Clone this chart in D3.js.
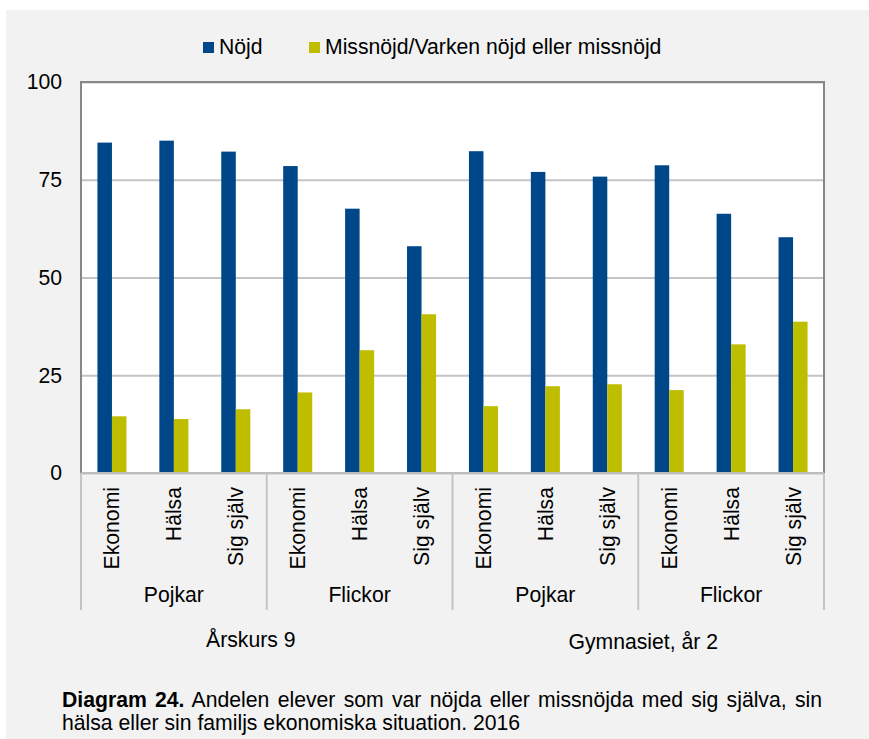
<!DOCTYPE html>
<html>
<head>
<meta charset="utf-8">
<script src="https://cdn.jsdelivr.net/npm/d3@7"></script>
<style>
  body { margin: 0; background: #fff; }
  svg { display: block; font-family: "Liberation Sans", Arial, sans-serif; }
</style>
</head>
<body>
<div id="chart"></div>
<script>
// chart data
const grades = ['Årskurs 9', 'Gymnasiet, år 2'];
const genders = ['Pojkar', 'Flickor'];
const topics = ['Ekonomi', 'Hälsa', 'Sig själv'];
const series = ['Nöjd', 'Missnöjd/Varken nöjd eller missnöjd'];
const nojd = [84.5, 85.0, 82.2, 78.5, 67.6, 58.0, 82.3, 77.0, 75.8, 78.7, 66.3, 60.3];
const missnojd = [14.5, 13.8, 16.3, 20.6, 31.4, 40.6, 17.1, 22.2, 22.7, 21.2, 32.9, 38.7];
const yTicks = [0, 25, 50, 75, 100];
const captionBold = 'Diagram 24.';
const captionLine1 = ' Andelen elever som var nöjda eller missnöjda med sig själva, sin';
const captionLine2 = 'hälsa eller sin familjs ekonomiska situation. 2016';

// layout
const width = 869, height = 739;
const plot = {l: 81, t: 82, r: 824, b: 473};
const colors = ['#00478a', '#bfbd00'];
const fontSize = '21.2px';

// one row per bar pair
const rows = [];
grades.forEach((g, gi) => genders.forEach((s, si) => topics.forEach((t, ti) => {
    const i = rows.length;
    rows.push({i, grade: g, gender: s, topic: t, values: [nojd[i], missnojd[i]]});
})));

const svg = d3.select('#chart').append('svg')
    .attr('width', width)
    .attr('height', height);

// grey panel + white plot area
svg.append('rect').attr('x', 6).attr('y', 10)
    .attr('width', width - 6).attr('height', height - 10).attr('fill', '#f2f2f2');
svg.append('rect').attr('x', plot.l).attr('y', plot.t)
    .attr('width', plot.r - plot.l).attr('height', plot.b - plot.t).attr('fill', '#fff');

const x = d3.scaleBand()
    .domain(rows.map(d => d.i))
    .range([plot.l, plot.r])
    .paddingInner(0.531)
    .paddingOuter(0.2655);
const xs = d3.scaleBand().domain(d3.range(series.length)).range([0, x.bandwidth()]);
const y = d3.scaleLinear().domain([0, 100]).range([plot.b, plot.t]);

// y axis with gridlines
const yAxis = svg.append('g')
    .attr('transform', `translate(${plot.l},0)`)
    .call(d3.axisLeft(y).tickValues(yTicks).tickSize(-(plot.r - plot.l)).tickPadding(19));
yAxis.select('.domain').remove();
yAxis.selectAll('line').attr('stroke', '#c4c4c4').attr('stroke-width', 2);
yAxis.selectAll('text').attr('font-size', fontSize).attr('fill', '#000').attr('font-family', null);

// bars
svg.append('g').selectAll('g')
    .data(rows)
    .join('g')
    .attr('transform', d => `translate(${x(d.i)},0)`)
    .selectAll('rect')
    .data(d => d.values)
    .join('rect')
    .attr('x', (v, k) => xs(k))
    .attr('y', v => y(v))
    .attr('width', xs.bandwidth())
    .attr('height', v => y(0) - y(v))
    .attr('fill', (v, k) => colors[k]);

// frame: dark left/top/right, light category axis
svg.append('path')
    .attr('d', `M${plot.l},${plot.b}V${plot.t}H${plot.r}V${plot.b}`)
    .attr('fill', 'none').attr('stroke', '#878787').attr('stroke-width', 2);
svg.append('line')
    .attr('x1', plot.l).attr('x2', plot.r).attr('y1', plot.b).attr('y2', plot.b)
    .attr('stroke', '#bdbdbd').attr('stroke-width', 2);

// group separators (gender level)
const groupSize = topics.length;
const groups = d3.range(rows.length / groupSize);
const step = x.step();
const bounds = d3.range(groups.length + 1).map(k => plot.l + k * groupSize * step);
svg.append('g').selectAll('line')
    .data(bounds)
    .join('line')
    .attr('x1', d => d).attr('x2', d => d)
    .attr('y1', plot.b).attr('y2', 610)
    .attr('stroke', '#c4c4c4').attr('stroke-width', 2);

// rotated topic labels
svg.append('g').selectAll('text')
    .data(rows)
    .join('text')
    .attr('transform', d => `translate(${x(d.i) + x.bandwidth() / 2 + 7.5},487) rotate(-90)`)
    .attr('text-anchor', 'end')
    .attr('font-size', fontSize)
    .text(d => d.topic);

// gender labels
svg.append('g').selectAll('text')
    .data(groups)
    .join('text')
    .attr('x', k => (bounds[k] + bounds[k + 1]) / 2)
    .attr('y', 602)
    .attr('text-anchor', 'middle')
    .attr('font-size', fontSize)
    .text(k => rows[k * groupSize].gender);

// grade labels (Excel places them slightly off-centre)
const gradeDx = [-16, 5];
const gradeDy = [646.5, 649];
const perGrade = genders.length * groupSize;
svg.append('g').selectAll('text')
    .data(grades)
    .join('text')
    .attr('x', (g, k) => plot.l + (k + 0.5) * perGrade * step + gradeDx[k])
    .attr('y', (g, k) => gradeDy[k])
    .attr('text-anchor', 'middle')
    .attr('font-size', fontSize)
    .text(g => g);

// legend
const legendX = [203, 309];
const legend = svg.append('g').selectAll('g')
    .data(series)
    .join('g')
    .attr('transform', (s, k) => `translate(${legendX[k]},42)`);
legend.append('rect')
    .attr('width', 11).attr('height', 11)
    .attr('fill', (s, k) => colors[k]);
legend.append('text')
    .attr('x', 16).attr('y', 12)
    .attr('font-size', fontSize)
    .text(s => s);

// caption, first line justified
const cap1 = svg.append('text')
    .attr('x', 62).attr('y', 706.5)
    .attr('font-size', fontSize);
cap1.append('tspan').attr('font-weight', 'bold').text(captionBold);
cap1.append('tspan').text(captionLine1);
const natural = cap1.node().getComputedTextLength();
const spaces = (captionBold + captionLine1).split(' ').length - 1;
cap1.attr('word-spacing', Math.max(0, (822 - 62 - natural) / spaces));

svg.append('text')
    .attr('x', 62).attr('y', 729.5)
    .attr('font-size', fontSize)
    .text(captionLine2);
</script>
</body>
</html>
